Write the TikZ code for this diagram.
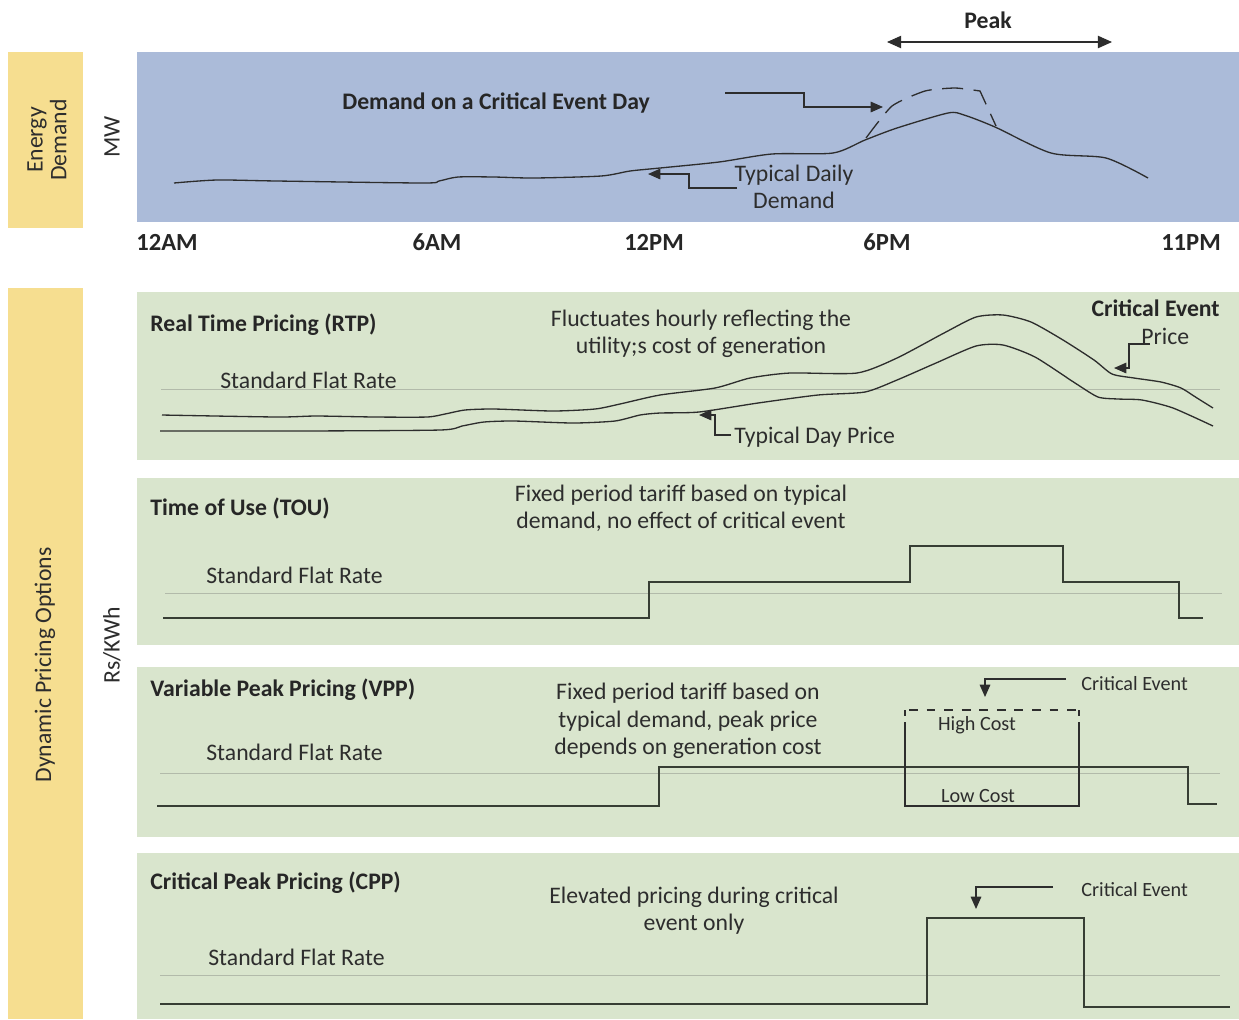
\documentclass[tikz,border=0pt]{standalone}
\usepackage{fontspec}
\setmainfont{Carlito}
\usetikzlibrary{arrows.meta}

\definecolor{panelblue}{RGB}{171,187,217}
\definecolor{panelgreen}{RGB}{217,229,205}
\definecolor{sideyellow}{RGB}{246,222,144}
\definecolor{ink}{RGB}{45,45,45}
\definecolor{stepink}{RGB}{55,62,52}
\definecolor{refline}{RGB}{178,186,170}

\tikzset{
  lbl/.style={font=\fontsize{13.5}{15.5}\selectfont, text=ink, inner sep=0pt},
  head/.style={lbl, font=\fontsize{13.5}{15.5}\selectfont\bfseries, text=black!85},
  hour/.style={lbl, font=\fontsize{14}{16}\selectfont\bfseries, text=black!85},
  small/.style={lbl, font=\fontsize{11.5}{13}\selectfont},
  curve/.style={ink, line width=0.75pt},
  stepline/.style={stepink, line width=1.1pt},
  flat/.style={refline, line width=0.5pt},
  pointer/.style={ink, line width=0.7pt, -{Triangle[length=7pt,width=6pt]}},
}

\begin{document}
\begin{tikzpicture}[x=0.02cm, y=-0.02cm]
\useasboundingbox (0,0) rectangle (1239,1019);
\fill[white] (0,0) rectangle (1239,1019);

% side bands and panels
\fill[sideyellow] (8,52) rectangle (83,228);
\fill[sideyellow] (8,288) rectangle (83,1019);
\fill[panelblue] (137,52) rectangle (1239,222);
\fill[panelgreen] (137,292) rectangle (1239,460);
\fill[panelgreen] (137,478) rectangle (1239,645);
\fill[panelgreen] (137,667) rectangle (1239,837);
\fill[panelgreen] (137,853) rectangle (1239,1019);

% axis captions
\node[lbl, rotate=90, align=center, font=\fontsize{13.5}{13.5}\selectfont] (energy) at (47,140) {Energy\\Demand};
\node[lbl, rotate=90] (mw) at (112,137) {MW};
\node[lbl, rotate=90] (dpo) at (45,665) {Dynamic Pricing Options};
\node[lbl, rotate=90] (rskwh) at (112,645) {Rs/KWh};

% hours
\node[hour, anchor=west] (h12am) at (136,242) {12AM};
\node[hour] (h6am) at (437,242) {6AM};
\node[hour] (h12pm) at (654,242) {12PM};
\node[hour] (h6pm) at (887,242) {6PM};
\node[hour] (h11pm) at (1191,242) {11PM};

% peak window
\node[head] (peak) at (988,20) {Peak};
\coordinate (pkL) at (887,42);
\coordinate (pkR) at (1112,42);
\draw[ink, line width=0.6pt, {Triangle[length=8pt,width=7pt]}-{Triangle[length=8pt,width=7pt]}] (pkL) -- (pkR);

% demand curves
\draw[curve] plot[smooth, tension=0.45] coordinates {(174,183)(217,180)(277,181)(423,183)(439,181)(458,177)(494,177)(534,178)(601,176)(630,171)(660,168)(719,162)(772,154)(833,153)(865,140)(897,128)(948,113)(964,115)(995,127)(1051,153)(1106,158)(1148,178)};
\draw[curve, dash pattern=on 12pt off 6pt] plot[smooth, tension=0.35] coordinates {(866,138)(892,106)(925,91)(955,88)(980,91)} -- (996,126);

\node[head, anchor=west] (critday) at (342,103) {Demand on a Critical Event Day};
\coordinate (cdA) at (725,93);
\coordinate (cdB) at (883,107);
\draw[pointer] (cdA) -- (804,93) |- (cdB);

\node[lbl, align=center] (typdem) at (794,187) {Typical Daily\\Demand};
\coordinate (tdA) at (737,188);
\coordinate (tdB) at (648,174);
\draw[pointer] (tdA) -- (689,188) |- (tdB);

% ---- Real Time Pricing ----
\node[head, anchor=west] (rtp) at (150,325) {Real Time Pricing (RTP)};
\node[lbl, align=center] (rtpnote) at (701,334) {Fluctuates hourly reflecting the\\utility;s cost of generation};
\node[lbl, anchor=west] (rtpflat) at (220,380) {Standard Flat Rate};
\draw[flat] (161,389) -- (1220,389);
\draw[curve] plot[smooth, tension=0.4] coordinates {(162,415)(277,417)(316,416)(375,417)(427,417)(445,414)(465,410)(494,409)(553,411)(595,409)(620,404)(660,395)(715,388)(750,378)(790,373)(857,373)(897,358)(944,333)(976,317)(1003,315)(1031,322)(1063,340)(1094,360)(1112,374)(1134,378)(1161,382)(1181,388)(1197,398)(1213,408)};
\draw[curve] plot[smooth, tension=0.4] coordinates {(160,431)(300,431)(440,430)(462,426)(484,422)(514,421)(573,423)(615,421)(640,415)(660,413)(699,412)(758,403)(818,395)(865,392)(897,380)(936,363)(976,346)(1003,345)(1035,357)(1075,383)(1098,397)(1118,399)(1142,400)(1173,408)(1213,426)};
\node[head, anchor=east] (cep) at (1220,308) {Critical Event};
\node[lbl, anchor=west] (ceprice) at (1141,336) {Price};
\coordinate (cpA) at (1150,344);
\coordinate (cpB) at (1114,368);
\draw[pointer] (cpA) -- (1129,344) |- (cpB);
\node[lbl, anchor=west] (tdp) at (734,437) {Typical Day Price};
\coordinate (tpA) at (731,435);
\coordinate (tpB) at (699,415);
\draw[pointer] (tpA) -- (715,435) |- (tpB);

% ---- Time of Use ----
\node[head, anchor=west] (tou) at (150,508) {Time of Use (TOU)};
\node[lbl, align=center] (tounote) at (681,508) {Fixed period tariff based on typical\\demand, no effect of critical event};
\node[lbl, anchor=west] (touflat) at (206,575) {Standard Flat Rate};
\draw[flat] (165,593) -- (1222,593);
\draw[stepline] (163,618) -- (649,618) -- (649,582) -- (910,582) -- (910,546) -- (1063,546) -- (1063,582) -- (1179,582) -- (1179,618) -- (1203,618);

% ---- Variable Peak Pricing ----
\node[head, anchor=west] (vpp) at (150,690) {Variable Peak Pricing (VPP)};
\node[lbl, align=center] (vppnote) at (688,721) {Fixed period tariff based on\\typical demand, peak price\\depends on generation cost};
\node[lbl, anchor=west] (vppflat) at (206,752) {Standard Flat Rate};
\draw[flat] (160,773) -- (1220,773);
\draw[stepline] (157,806) -- (659,806) -- (659,767) -- (1188,767) -- (1188,804) -- (1217,804);
\draw[ink, line width=0.8pt] (905,722) -- (905,806) -- (1079,806) -- (1079,722);
\draw[ink, line width=0.8pt] (905,710) -- (905,716);
\draw[ink, line width=0.8pt] (1079,710) -- (1079,716);
\draw[ink, line width=1pt, dash pattern=on 5pt off 5pt] (909,710) -- (1079,710);
\node[small] (hicost) at (977,725) {High Cost};
\node[small] (locost) at (978,796) {Low Cost};
\node[small, anchor=west] (vppce) at (1081,684) {Critical Event};
\coordinate (vcA) at (1066,679);
\coordinate (vcB) at (985,697);
\draw[pointer] (vcA) -| (vcB);

% ---- Critical Peak Pricing ----
\node[head, anchor=west] (cpp) at (150,883) {Critical Peak Pricing (CPP)};
\node[lbl, align=center] (cppnote) at (694,911) {Elevated pricing during critical\\event only};
\node[lbl, anchor=west] (cppflat) at (208,957) {Standard Flat Rate};
\draw[flat] (160,975) -- (1220,975);
\draw[stepline] (160,1004) -- (927,1004) -- (927,918) -- (1084,918) -- (1084,1007) -- (1230,1007);
\node[small, anchor=west] (cppce) at (1081,890) {Critical Event};
\coordinate (ccA) at (1053,887);
\coordinate (ccB) at (976,909);
\draw[pointer] (ccA) -| (ccB);

\end{tikzpicture}
\end{document}
